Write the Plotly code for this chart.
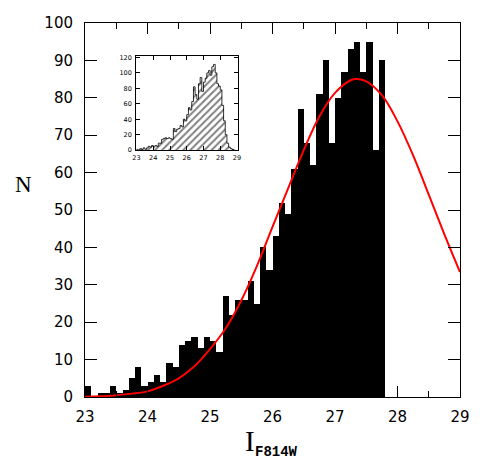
import numpy as np
import plotly.graph_objects as go

# main histogram, 0.1 mag bins starting at 23.0
bin_width = 0.1
main_left = np.round(np.arange(23.0, 27.75, bin_width), 2)
main_counts = [3, 0, 1, 1, 3, 1, 2, 5, 8, 3,
               4, 6, 4, 9, 8, 14, 15, 16, 13, 16,
               15, 12, 27, 22, 26, 26, 31, 25, 40, 34,
               43, 52, 49, 61, 77, 68, 62, 81, 90, 68,
               80, 87, 93, 95, 87, 95, 66, 90]

# gaussian fit curve
curve_mag = [23.0, 23.25, 23.5, 23.75, 24.0, 24.25, 24.5, 24.75, 25.0, 25.25,
             25.5, 25.75, 26.0, 26.25, 26.5, 26.75, 27.0, 27.25, 27.36, 27.5,
             27.75, 28.0, 28.25, 28.5, 28.75, 29.0]
curve_n = [0.1, 0.2, 0.5, 0.9, 1.5, 3.0, 5.0, 8.2, 12.8, 18.3,
           25.8, 35.0, 45.5, 55.8, 66.0, 75.0, 81.3, 84.7, 85.0, 84.4,
           80.7, 73.7, 64.6, 54.1, 43.5, 33.4]

# inset histogram (full sample)
inset_left = np.round(np.arange(23.0, 28.85, bin_width), 2)
inset_counts = [1, 0, 2, 1, 3, 1, 3, 5, 4, 6,
                4, 6, 5, 9, 9, 14, 15, 16, 15, 16,
                15, 14, 28, 24, 27, 28, 32, 30, 40, 38,
                46, 55, 52, 63, 82, 72, 66, 86, 94, 76,
                88, 93, 100, 103, 97, 108, 111, 100, 86, 83,
                78, 58, 38, 20, 9, 4, 2, 1, 0]

fig = go.Figure()

fig.add_trace(go.Bar(x=main_left + bin_width / 2, y=main_counts, width=bin_width,
                     marker=dict(color="black", line=dict(width=0)),
                     showlegend=False))
fig.add_trace(go.Scatter(x=curve_mag, y=curve_n, mode="lines", line_shape="spline",
                         line=dict(color="#ff0000", width=2), showlegend=False))

# inset: hatched bars + step outline
fig.add_trace(go.Bar(x=inset_left + bin_width / 2, y=inset_counts, width=bin_width,
                     xaxis="x2", yaxis="y2",
                     marker=dict(color="white", line=dict(width=0),
                                 pattern=dict(shape="/", fgcolor="black", bgcolor="white",
                                              size=5, solidity=0.4)),
                     showlegend=False))
step_x = list(inset_left) + [inset_left[-1] + bin_width]
step_y = list(inset_counts) + [inset_counts[-1]]
fig.add_trace(go.Scatter(x=step_x, y=step_y, mode="lines", line_shape="hv",
                         line=dict(color="black", width=0.8),
                         xaxis="x2", yaxis="y2", showlegend=False))

tick_font = dict(family="DejaVu Sans", size=15, color="black")
small_font = dict(family="DejaVu Sans", size=6.5, color="black")

fig.update_layout(
    width=491, height=473,
    margin=dict(l=85, r=31, t=23, b=76),
    paper_bgcolor="white", plot_bgcolor="white",
    bargap=0,
    xaxis=dict(range=[23, 29], tickvals=[23, 24, 25, 26, 27, 28, 29],
               ticks="inside", ticklen=11, tickwidth=1, tickcolor="black",
               minor=dict(dtick=0.5, ticks="inside", ticklen=6, tickcolor="black"),
               showline=True, linecolor="black", linewidth=1, mirror="allticks",
               showgrid=False, zeroline=False, tickfont=tick_font,
               ticklabelstandoff=6),
    yaxis=dict(range=[0, 100], dtick=10, ticks="inside", ticklen=12, tickwidth=1,
               tickcolor="black", showline=True, linecolor="black", linewidth=1,
               mirror="allticks", showgrid=False, zeroline=False, tickfont=tick_font,
               ticklabelstandoff=8),
    xaxis2=dict(domain=[0.136, 0.408], anchor="y2", range=[22.97, 29.06], dtick=1,
                ticks="inside", ticklen=4, tickwidth=0.8, tickcolor="black",
                showline=True, linecolor="black", linewidth=0.8, mirror="allticks",
                showgrid=False, zeroline=False, tickfont=small_font,
                ticklabelstandoff=1),
    yaxis2=dict(domain=[0.660, 0.912], anchor="x2", range=[0, 122], dtick=20,
                ticks="inside", ticklen=4, tickwidth=0.8, tickcolor="black",
                showline=True, linecolor="black", linewidth=0.8, mirror="allticks",
                showgrid=False, zeroline=False, tickfont=small_font,
                ticklabelstandoff=2),
    annotations=[
        dict(text="N", x=-0.163, y=0.567, xref="paper", yref="paper",
             xanchor="center", yanchor="middle", showarrow=False,
             font=dict(family="Liberation Serif", size=23, color="black")),
        dict(text="I", x=0.44, y=-0.118, xref="paper", yref="paper",
             xanchor="center", yanchor="middle", showarrow=False,
             font=dict(family="Liberation Serif", size=29, color="black")),
        dict(text="<b>F814W</b>", x=0.448, y=-0.148, xref="paper", yref="paper",
             xanchor="left", yanchor="middle", showarrow=False,
             font=dict(family="Liberation Mono", size=14, color="black")),
    ],
)

fig.write_html("out.html", config={"displayModeBar": False},
               post_script="document.body.style.margin='0';")
